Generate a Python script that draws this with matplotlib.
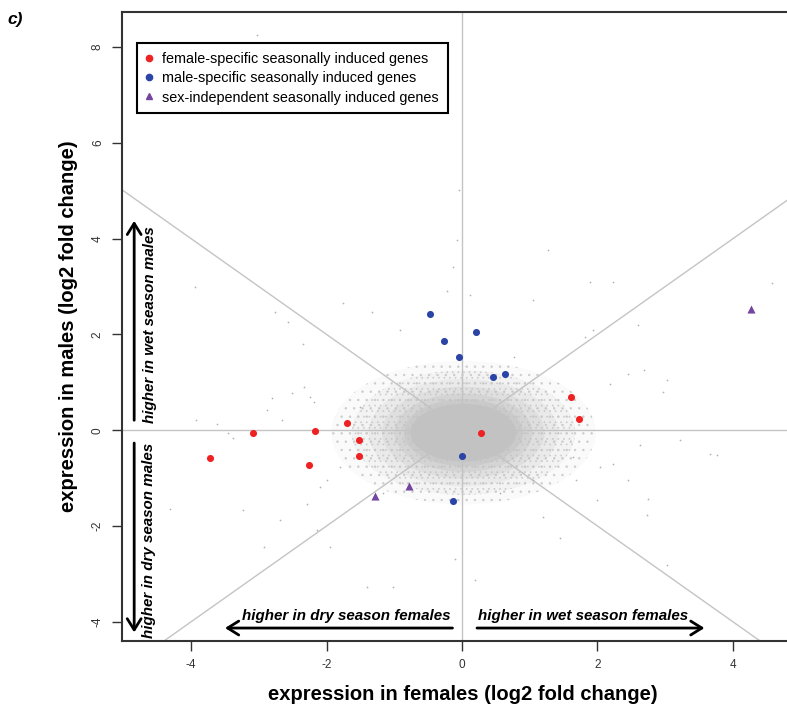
import matplotlib
matplotlib.use("Agg")
import matplotlib.pyplot as plt
from matplotlib.patches import Ellipse
from matplotlib.lines import Line2D

plt.rcParams['font.family'] = ['Liberation Sans', 'DejaVu Sans']
plt.rcParams['axes.unicode_minus'] = False
plt.rcParams['hatch.linewidth'] = 0.5

# seasonally induced genes (log2 fold change: females, males)
female_x = [-3.72, -3.08, -2.17, -1.70, -1.52, -1.52, -2.26, 0.28, 1.61, 1.73]
female_y = [-0.59, -0.05, -0.01, 0.15, -0.21, -0.54, -0.72, -0.05, 0.69, 0.24]
male_x = [-0.47, 0.21, -0.26, -0.05, 0.45, 0.63, 0.00, -0.13]
male_y = [2.43, 2.05, 1.86, 1.52, 1.12, 1.17, -0.54, -1.47]
indep_x = [-1.29, -0.79, 4.27]
indep_y = [-1.38, -1.17, 2.54]

# scattered background genes (outside the dense core)
bg_x = [-3.94, -2.76, -2.57, -2.35, -3.92, -3.61, -2.81, -2.51, -2.66, -2.34, -2.19, -2.88,
        -3.45, -3.38, -3.23, -2.93, -2.14, -1.95, -1.41, -1.02, -4.31, -2.69, -1.80, -2.10,
        -2.29, 2.23, 2.45, 2.75, 2.73, 3.66, 3.76, 3.22, 2.63, 1.69, 1.99, 1.45, 3.02, 0.19,
        -0.10, 1.20, 1.27, 1.89, 2.23, 4.57, 2.60, 1.82, 2.45, 3.02, 2.97, 2.68, 2.18, -0.04,
        -0.07, -0.14, 0.12, -0.22, -1.75, -1.33, -0.92, 1.05, 0.76, 1.94, -1.51, -2.00, 1.64,
        2.04, 1.05, -1.16, 0.56, -2.24, -3.03]
bg_y = [2.99, 2.47, 2.26, 1.81, 0.21, 0.12, 0.67, 0.77, 0.22, 0.90, 0.59, 0.42,
        -0.06, -0.17, -1.66, -2.44, -2.09, -2.44, -3.27, -3.27, -1.65, -1.88, -0.77, -1.18,
        -1.53, -0.70, -1.04, -1.43, -1.77, -0.49, -0.52, -0.21, -0.31, -1.04, -1.46, -2.26, -2.82, -3.13,
        -2.68, -1.81, 3.76, 3.10, 3.10, 3.08, 2.19, 1.95, 1.18, 1.04, 0.80, 1.25, 0.97, 5.01,
        3.97, 3.40, 2.82, 2.90, 2.65, 2.47, 2.09, 2.71, 1.53, 2.09, 0.49, -1.04, -0.56,
        -0.77, -1.04, -1.32, -1.32, 0.70, 8.25]

# dense core of the gene cloud: centre, half-widths and density of nested shells
cloud_center = (0.02, -0.05)
cloud_half_x = [1.95, 1.65, 1.40, 1.20, 1.02, 0.88, 0.78]
cloud_half_y = [1.50, 1.30, 1.12, 0.96, 0.82, 0.70, 0.60]
cloud_density = [0.08, 0.12, 0.18, 0.25, 0.35, 0.5, 1.0]
cloud_hatch = ['..', '...', None, None, None, None, None]

legend_labels = ['female-specific seasonally induced genes',
                 'male-specific seasonally induced genes',
                 'sex-independent seasonally induced genes']

grey = '#C4C4C4'
cloud_grey = '#C2C2C2'
red = '#EE2222'
blue = '#2B45A6'
purple = '#7445A0'

fig = plt.figure(figsize=(7.87, 7.11), dpi=100)
ax = fig.add_axes([0.155, 0.0985, 0.865, 0.8845])
ax.set_xlim(-5.02, 5.03)
ax.set_ylim(-4.40, 8.73)

# guide lines through the origin
ax.axhline(0, color=grey, lw=1, zorder=1)
ax.axvline(0, color=grey, lw=1, zorder=1)
ax.axline((0, 0), slope=1, color=grey, lw=1, zorder=1)
ax.axline((0, 0), slope=-1, color=grey, lw=1, zorder=1)

# cloud of all genes
for hx, hy, d, h in zip(cloud_half_x, cloud_half_y, cloud_density, cloud_hatch):
    ax.add_patch(Ellipse(cloud_center, 2 * hx, 2 * hy, facecolor=cloud_grey, alpha=d,
                         edgecolor='none', lw=0, zorder=2))
    if h is not None:
        ax.add_patch(Ellipse(cloud_center, 2 * hx, 2 * hy, facecolor='none', edgecolor='#CCCCCC',
                             hatch=h, lw=0, zorder=2))
ax.scatter(bg_x, bg_y, s=1.5, color='#B0B0B0', lw=0, zorder=2)

ax.scatter(female_x, female_y, s=26, color=red, lw=0, zorder=4)
ax.scatter(male_x, male_y, s=26, color=blue, lw=0, zorder=4)
ax.scatter(indep_x, indep_y, s=34, marker='^', color=purple, lw=0, zorder=4)

# direction arrows
akw = dict(arrowstyle='->,head_length=0.8,head_width=0.5', lw=2, color='black')
ax.annotate('', xy=(-4.84, 4.43), xytext=(-4.84, 0.15), arrowprops=akw)
ax.annotate('', xy=(-4.84, -4.28), xytext=(-4.84, -0.21), arrowprops=akw)
ax.annotate('', xy=(-3.54, -4.13), xytext=(-0.10, -4.13), arrowprops=akw)
ax.annotate('', xy=(3.62, -4.13), xytext=(0.18, -4.13), arrowprops=akw)
tkw = dict(fontsize=10.9, fontweight='bold', fontstyle='italic', ha='center', va='center')
ax.text(-4.60, 2.20, 'higher in wet season males', rotation=90, **tkw)
ax.text(-4.62, -2.30, 'higher in dry season males', rotation=90, **tkw)
ax.text(-1.71, -3.88, 'higher in dry season females', **tkw)
ax.text(1.79, -3.88, 'higher in wet season females', **tkw)

ax.set_xticks([-4, -2, 0, 2, 4])
ax.set_yticks([-4, -2, 0, 2, 4, 6, 8])
ax.tick_params(direction='out', length=7, width=1, labelsize=8.5, colors='#333333', pad=6)
for lab in ax.get_yticklabels():
    lab.set_rotation(90)
    lab.set_va('center')
for s in ax.spines.values():
    s.set_linewidth(1.5)
    s.set_color('#333333')

ax.set_xlabel('expression in females (log2 fold change)', fontsize=14.5, fontweight='bold', labelpad=10)
ax.set_ylabel('expression in males (log2 fold change)', fontsize=14.5, fontweight='bold', labelpad=10)

handles = [Line2D([], [], ls='none', marker='o', ms=4.5, color=red),
           Line2D([], [], ls='none', marker='o', ms=4.5, color=blue),
           Line2D([], [], ls='none', marker='^', ms=5, color=purple)]
leg = ax.legend(handles, legend_labels, loc='upper left', bbox_to_anchor=(0.022, 0.951),
                borderaxespad=0, fontsize=10.4, handlelength=0.4, handletextpad=0.75,
                labelspacing=0.38, fancybox=False, framealpha=1, borderpad=0.6)
leg.get_frame().set_edgecolor('black')
leg.get_frame().set_linewidth(1.5)

fig.text(0.01, 0.972, 'c)', fontsize=12.5, fontweight='bold', fontstyle='italic', va='center')

fig.savefig('out.png', dpi=100)
